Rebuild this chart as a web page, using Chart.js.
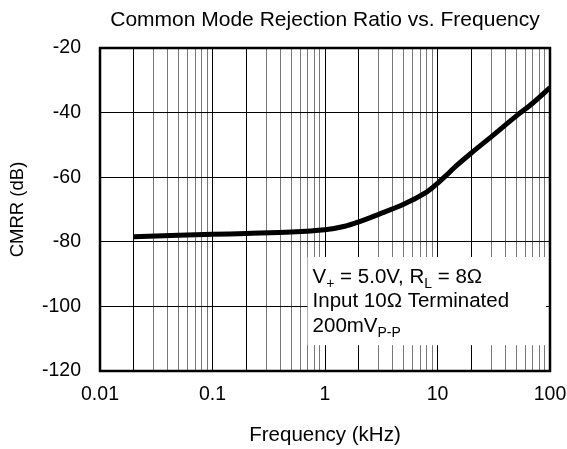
<!DOCTYPE html>
<html>
<head>
<meta charset="utf-8">
<script src="https://cdn.jsdelivr.net/npm/chart.js@4/dist/chart.umd.min.js"></script>
<style>
  html, body { margin: 0; padding: 0; background: #fff; }
  #wrap { width: 567px; height: 449px; }
</style>
</head>
<body>
<div id="wrap"><canvas id="cmrrChart" width="567" height="449"></canvas></div>
<script>
// values
const freqKHz = [0.02, 0.05, 0.1, 0.2, 0.5, 1, 1.5, 2, 3, 5, 8, 10, 11.5, 15, 20, 30, 50, 70, 100];
const cmrrDb = [-78.4, -78.0, -77.7, -77.4, -77.0, -76.3, -75.2, -73.8, -71.5, -68.4, -64.6, -61.9, -60.0, -56.2, -52.5, -47.5, -41.1, -37.1, -32.3];
const xDecades = [0.01, 0.1, 1, 10, 100];
const yTicks = [-120, -100, -80, -60, -40, -20];
const noteLines = [
  [["V", 0], ["+", 1], [" = 5.0V, R", 0], ["L", 1], [" = 8\u03A9", 0]],
  [["Input 10\u03A9 Terminated", 0]],
  [["200mV", 0], ["P-P", 1]]
];

const FONT = "'Liberation Sans', Arial, sans-serif";

function mantissa(v) {
  return Math.round(v / Math.pow(10, Math.floor(Math.log10(v) + 1e-9)));
}

const notePlugin = {
  id: "note",
  beforeDatasetsDraw(chart) {
    const { ctx, scales } = chart;
    const x0 = scales.x.getPixelForValue(0.7);
    const x1 = scales.x.getPixelForValue(92);
    const y0 = scales.y.getPixelForValue(-84.7);
    const y1 = scales.y.getPixelForValue(-112);
    ctx.save();
    ctx.fillStyle = "#fff";
    ctx.fillRect(x0, y0, x1 - x0, y1 - y0);
    ctx.fillStyle = "#000";
    ctx.textBaseline = "alphabetic";
    noteLines.forEach((parts, i) => {
      let x = x0 + 5;
      const y = y0 + 26 + i * 24.5;
      parts.forEach(([txt, sub]) => {
        ctx.font = (sub ? "14px " : "20.5px ") + FONT;
        ctx.fillText(txt, x, sub ? y + 5 : y);
        x += ctx.measureText(txt).width;
      });
    });
    ctx.restore();
  },
  afterDraw(chart) {
    const { ctx, chartArea: a } = chart;
    ctx.save();
    ctx.strokeStyle = "#000";
    ctx.lineWidth = 2.5;
    ctx.strokeRect(a.left, a.top, a.right - a.left, a.bottom - a.top);
    ctx.restore();
  }
};

new Chart(document.getElementById("cmrrChart"), {
  type: "line",
  data: {
    datasets: [{
      data: freqKHz.map((f, i) => ({ x: f, y: cmrrDb[i] })),
      borderColor: "#000",
      borderWidth: 5,
      pointRadius: 0,
      tension: 0.3,
      fill: false
    }]
  },
  options: {
    responsive: false,
    animation: false,
    layout: { padding: { left: 0, right: 17, top: 0, bottom: 0 } },
    plugins: {
      legend: { display: false },
      tooltip: { enabled: false },
      title: {
        display: true,
        fullSize: false,
        text: "Common Mode Rejection Ratio vs. Frequency",
        color: "#000",
        font: { family: FONT, size: 21, weight: "normal" },
        padding: { top: 8, bottom: 14.8 }
      }
    },
    scales: {
      x: {
        type: "logarithmic",
        min: 0.01,
        max: 100,
        afterBuildTicks(scale) {
          const t = [];
          for (let k = -2; k <= 1; k++) {
            for (let m = 1; m <= 9; m++) t.push({ value: Number((m * Math.pow(10, k)).toPrecision(3)) });
          }
          t.push({ value: 100 });
          scale.ticks = t;
        },
        afterFit(scale) {
          scale.height = 78;
          scale.paddingLeft = 0;
          scale.paddingRight = 0;
        },
        grid: {
          drawTicks: false,
          lineWidth: 1,
          color: (c) => {
            const m = mantissa(c.tick.value);
            return m === 1 || m === 2 ? "#000" : "#777";
          }
        },
        border: { display: false },
        ticks: {
          autoSkip: false,
          maxRotation: 0,
          padding: 12,
          color: "#000",
          font: { family: FONT, size: 19.5 },
          callback: (v) => xDecades.includes(v) ? String(v) : ""
        },
        title: {
          display: true,
          text: "Frequency (kHz)",
          color: "#000",
          font: { family: FONT, size: 20.5 },
          padding: { top: 4, bottom: 1 }
        }
      },
      y: {
        min: -120,
        max: -20,
        afterBuildTicks(scale) { scale.ticks = yTicks.map(v => ({ value: v })); },
        afterFit(scale) {
          scale.width = 100;
          scale.paddingTop = 0;
          scale.paddingBottom = 0;
        },
        grid: { drawTicks: false, color: "#000", lineWidth: 1 },
        border: { display: false },
        ticks: {
          padding: 19,
          color: "#000",
          font: { family: FONT, size: 19.5 }
        },
        title: {
          display: true,
          text: "CMRR (dB)",
          color: "#000",
          font: { family: FONT, size: 18.5 },
          padding: { top: 7, bottom: 0 }
        }
      }
    }
  },
  plugins: [notePlugin]
});
</script>
</body>
</html>
